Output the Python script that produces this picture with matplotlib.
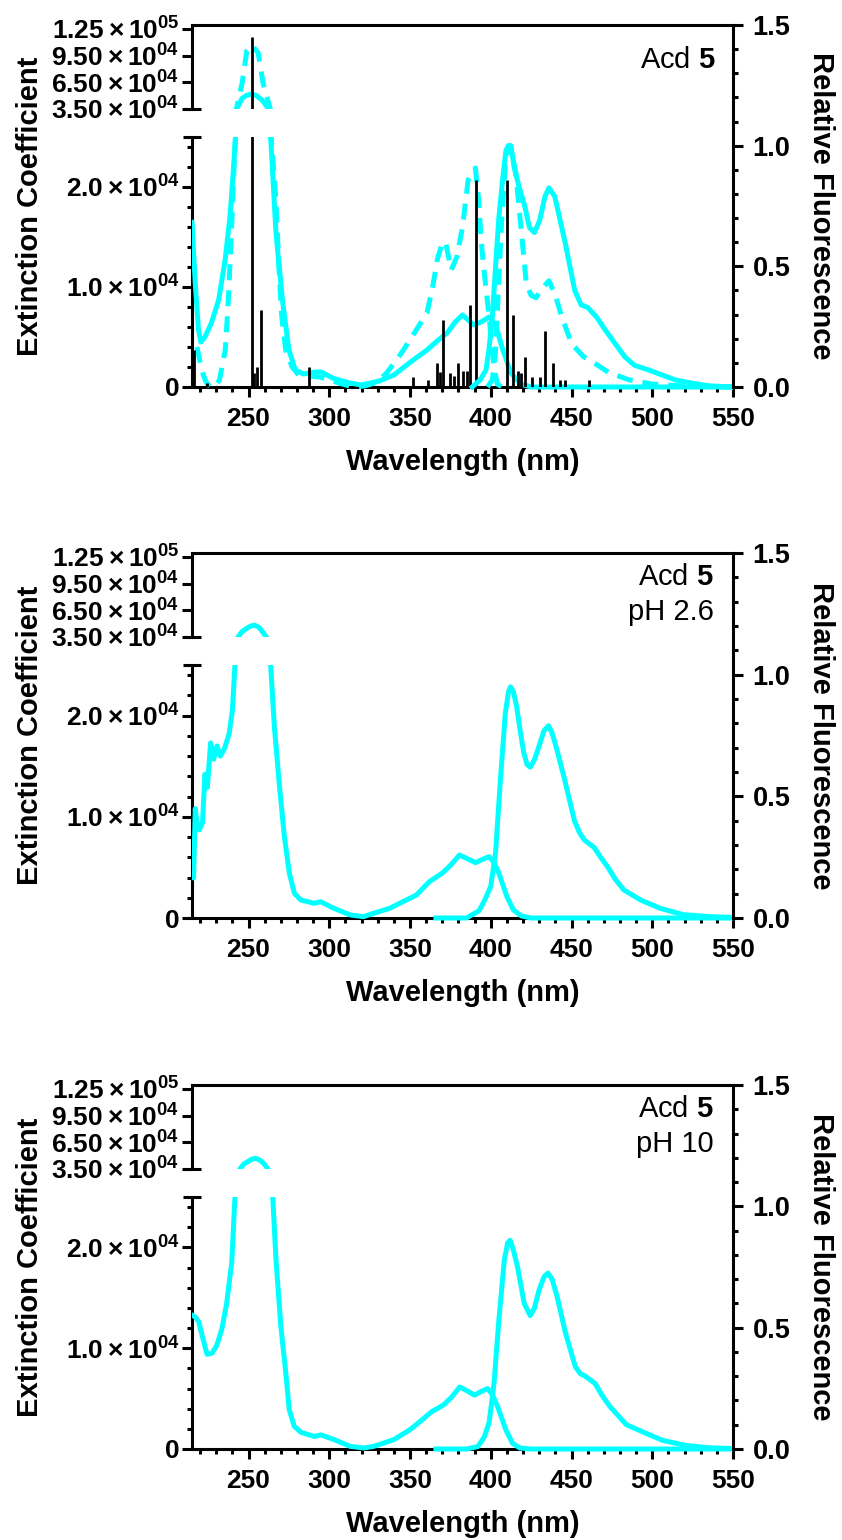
import numpy as np
import matplotlib
matplotlib.use('Agg')
import matplotlib.pyplot as plt
from matplotlib import ticker
from matplotlib.patches import Rectangle

plt.rcParams['font.family'] = ['Liberation Sans', 'DejaVu Sans']
plt.rcParams['font.weight'] = 'bold'
plt.rcParams['mathtext.fontset'] = 'custom'
plt.rcParams['mathtext.rm'] = 'Liberation Sans:weight=bold'
plt.rcParams['mathtext.it'] = 'Liberation Sans:weight=bold'
plt.rcParams['mathtext.bf'] = 'Liberation Sans:weight=bold'
plt.rcParams['mathtext.sf'] = 'Liberation Sans:weight=normal'

CYAN = '#00ffff'

# --- Acd 5: calculated transitions (sticks) ---
stick_nm = [216, 224, 252, 253.5, 255, 258, 287.5, 352, 361, 367,
            368.5, 370.5, 375, 377.5, 380, 383, 385, 387, 391, 410,
            413.8, 417, 418.5, 421, 425.5, 430.5, 433.8, 438.6, 443, 446,
            460.6]
stick_eps = [3700, 400, 116000, 1400, 2000, 7700, 2000, 1000, 700, 2400,
             1500, 6700, 1400, 1100, 2400, 1600, 1600, 8200, 20700, 20700,
             7200, 1600, 1400, 3000, 1000, 1000, 5600, 2400, 700, 700,
             700]

# --- Acd 5: calculated absorption (dashed, extinction) ---
calc_abs_nm = [218, 220, 222, 224, 226.5, 229, 232, 235.6, 237.5, 239.4,
               240.6, 241.9, 242.5, 246, 249, 252, 256, 259, 263.5, 264,
               267, 268.8, 270.6, 273, 277, 281, 287, 294, 300, 308,
               315, 322, 328, 335, 343, 350, 355, 360.5, 364, 367,
               370, 372, 375.5, 379, 382.5, 386, 390.5, 392.5, 394, 396,
               399, 402, 404, 407]
calc_abs_eps = [4000, 2500, 1200, 400, 0, 0, 700, 3700, 8700, 15400,
                20400, 25000, 35000, 64000, 101000, 107000, 98000, 64000, 35000, 25000,
                18700, 12000, 7000, 3700, 2000, 1200, 1100, 1000, 700, 300,
                0, 100, 400, 1300, 3000, 4700, 6000, 7400, 10000, 12800,
                14400, 14500, 11700, 13000, 16000, 20700, 21900, 18700, 14700, 11400,
                7000, 2000, 300, 0]

# --- Acd 5: calculated emission (dashed, relative) ---
calc_em_nm = [398, 401, 403, 405, 407, 409, 411, 413, 415.5, 417,
              419, 422, 425, 428, 432, 436, 440, 444, 450, 457.5,
              464, 473, 485.5, 500, 520, 550]
calc_em_f = [0.0, 0.03, 0.15, 0.45, 0.72, 0.92, 1.0, 0.97, 0.89, 0.78,
             0.64, 0.43, 0.38, 0.37, 0.41, 0.44, 0.38, 0.29, 0.18, 0.125,
             0.10, 0.06, 0.03, 0.012, 0.004, 0.0]

# --- Acd 5: measured absorption / emission ---
abs5_nm = [215, 217, 219, 220.5, 223, 227, 231.5, 235.5, 238.5, 240.5,
           242, 242.7, 246, 249, 252, 255, 258.3, 260.5, 262.4, 263.7,
           267, 271, 275, 279, 284, 287.5, 292, 295, 302, 312.5,
           320, 331, 340, 352, 360.5, 367.5, 373, 378, 382.5, 386,
           389.5, 394, 399, 403, 407.5, 412.5, 418.5, 425, 550]
abs5_eps = [16500, 10400, 5700, 4500, 5000, 6400, 8700, 12700, 17000, 21400,
            25000, 35000, 47000, 50500, 51900, 50000, 45000, 40000, 35000, 25000,
            15400, 8700, 3700, 1700, 1300, 1400, 1500, 1500, 900, 400,
            200, 600, 1200, 2700, 3700, 4700, 5400, 6500, 7200, 6700,
            6200, 6500, 7000, 6200, 3700, 1400, 300, 0, 0]
em5_nm = [388.5, 393.5, 397, 398.8, 401, 403, 405, 407.5, 409.4, 411,
          412.5, 414.5, 417.5, 421, 424, 427, 430.3, 433.6, 436, 439.6,
          443, 446, 449, 452, 456, 460, 465.5, 470.5, 477, 483,
          489, 498, 506, 514, 525, 535, 550]
em5_f = [0.0, 0.03, 0.07, 0.15, 0.29, 0.50, 0.70, 0.87, 0.98, 1.0,
         1.0, 0.91, 0.83, 0.75, 0.66, 0.64, 0.69, 0.79, 0.825, 0.79,
         0.69, 0.60, 0.50, 0.40, 0.34, 0.33, 0.29, 0.24, 0.18, 0.125,
         0.09, 0.07, 0.05, 0.03, 0.015, 0.005, 0.0]

# --- Acd 5, pH 2.6 ---
abs26_nm = [214.5, 216, 217, 218.5, 219.5, 221.5, 223, 224.5, 226.5, 228.5,
            230.5, 232.5, 235, 238, 240, 241.6, 243.5, 246, 248.8, 251,
            253.5, 255.5, 257, 259, 261, 263.7, 266, 269.2, 272.2, 275.3,
            278.4, 282.4, 290.6, 294.7, 302.8, 313, 321.2, 327.3, 337.5, 343.9,
            354, 362, 370, 375, 380.6, 385, 390.6, 395, 398.9, 402,
            405, 410, 414, 419, 425, 550]
abs26_eps = [5700, 3950, 10800, 9000, 8700, 9400, 14200, 12900, 17300, 15700,
             17000, 16000, 16700, 18200, 20500, 25000, 35000, 41000, 44700, 47000,
             48300, 47000, 44700, 40000, 35000, 25000, 18900, 12970, 8030, 4410,
             2440, 1780, 1450, 1610, 960, 300, 130, 460, 960, 1480,
             2270, 3590, 4440, 5200, 6220, 5900, 5470, 5800, 6060, 5500,
             4440, 2110, 790, 200, 0, 0]
em26_nm = [366, 385, 392.8, 396, 400, 403, 406, 409, 411, 412.2,
           414, 416, 418, 420.4, 422.5, 424.5, 427, 429.6, 433, 435.7,
           438, 440.6, 445.7, 451.8, 455, 458, 464, 468, 472.4, 477,
           482.5, 492.8, 504.8, 519, 535, 550]
em26_f = [0, 0, 0.03, 0.07, 0.13, 0.27, 0.57, 0.84, 0.93, 0.95,
          0.93, 0.87, 0.78, 0.68, 0.63, 0.62, 0.65, 0.70, 0.77, 0.79,
          0.76, 0.70, 0.57, 0.40, 0.35, 0.32, 0.29, 0.25, 0.21, 0.16,
          0.115, 0.074, 0.04, 0.014, 0.006, 0.002]

# --- Acd 5, pH 10 ---
abs10_nm = [215, 216, 217.5, 219.2, 221.2, 224.3, 227.4, 230.4, 233.5, 236.5,
            239.6, 241.6, 244.7, 247, 249.8, 252, 253.9, 256, 258, 260,
            262, 265, 267, 270, 273.3, 275.2, 278.3, 282.5, 290.7, 294.8,
            303, 313, 321.4, 327.5, 340, 350, 356, 363.4, 370.6, 375.5,
            380.8, 385, 390, 394, 398, 401, 404.3, 409.4, 413.5, 418,
            425, 550]
abs10_eps = [13300, 13200, 13000, 12600, 11300, 9400, 9500, 10300, 11900, 14500,
             18500, 25000, 35000, 40500, 43600, 46000, 47000, 46000, 43600, 40000,
             35000, 25000, 18800, 12200, 7200, 3900, 2250, 1650, 1250, 1400,
             930, 260, 100, 260, 930, 1920, 2700, 3700, 4350, 5100,
             6150, 5800, 5340, 5700, 6000, 5400, 4180, 1880, 560, 100,
             0, 0]
em10_nm = [366, 385, 392, 396, 399, 402, 405, 408.4, 410.5, 412,
           414, 416.6, 420.7, 424.4, 427, 429.9, 433, 435.4, 438, 441,
           446.2, 452.3, 455.5, 458.5, 464.6, 469, 473.8, 484, 494.3, 506.6,
           520.8, 535, 550]
em10_f = [0, 0, 0.01, 0.05, 0.11, 0.27, 0.53, 0.78, 0.85, 0.86,
          0.82, 0.75, 0.60, 0.55, 0.58, 0.655, 0.71, 0.725, 0.70, 0.63,
          0.48, 0.34, 0.31, 0.30, 0.27, 0.22, 0.175, 0.10, 0.07, 0.035,
          0.015, 0.005, 0.002]

hi_ticks = [35000, 65000, 95000, 125000]
lo_ticks = [0, 10000, 20000]
fl_ticks = [0.0, 0.5, 1.0, 1.5]

panels = [
    dict(abs=(abs5_nm, abs5_eps), em=(em5_nm, em5_f), calc=True,
         notes=[r'$\mathsf{Acd}\ 5$']),
    dict(abs=(abs26_nm, abs26_eps), em=(em26_nm, em26_f), calc=False,
         notes=[r'$\mathsf{Acd}\ 5$', 'pH 2.6']),
    dict(abs=(abs10_nm, abs10_eps), em=(em10_nm, em10_f), calc=False,
         notes=[r'$\mathsf{Acd}\ 5$', 'pH 10']),
]

W, H = 842, 1540
fig = plt.figure(figsize=(W / 100, H / 100), dpi=100)


def fx(px):
    return px / W


def fy(py):
    return 1 - py / H


def sci(v, pos=None, nd=1):
    if v == 0:
        return '0'
    e = int(np.floor(np.log10(v)))
    return r'$%.*f\times10^{%02d}$' % (nd, v / 10 ** e, e)


LEFT, RIGHT = 192, 733
tops = [25, 553, 1085]
bots = [387, 918, 1449]
LW = 3.6
SPW = 2.2
dash = (0, (3.2, 2.0))

for p, top, bot in zip(panels, tops, bots):
    hi_bot = top + 84
    lo_top = hi_bot + 28
    w = (RIGHT - LEFT) / W
    ax_lo = fig.add_axes([fx(LEFT), fy(bot), w, (bot - lo_top) / H])
    ax_hi = fig.add_axes([fx(LEFT), fy(hi_bot), w, (hi_bot - top) / H])
    ax_r = fig.add_axes([fx(LEFT), fy(bot), w, (bot - top) / H])
    ax_r.patch.set_visible(False)

    for ax in (ax_lo, ax_hi, ax_r):
        ax.set_xlim(215, 550)
        for s in ax.spines.values():
            s.set_linewidth(SPW)
    ax_lo.set_ylim(0, 25000)
    ax_hi.set_ylim(35000, 129500)
    ax_r.set_ylim(0, 1.5)

    # spines: broken left axis, full right axis
    ax_lo.spines[['top', 'right']].set_visible(False)
    ax_hi.spines[['bottom', 'right']].set_visible(False)
    ax_r.spines[['top', 'left', 'bottom']].set_visible(False)

    # break caps on the left axis
    for ax, yy in ((ax_hi, 0), (ax_lo, 1)):
        ax.plot(0, yy, marker='_', ms=13, mew=SPW, color='k',
                transform=ax.transAxes, clip_on=False, zorder=5)

    # ticks
    ax_lo.xaxis.set_major_locator(ticker.MultipleLocator(50))
    ax_lo.xaxis.set_minor_locator(ticker.MultipleLocator(10))
    ax_lo.yaxis.set_major_locator(ticker.FixedLocator(lo_ticks))
    ax_lo.yaxis.set_minor_locator(ticker.MultipleLocator(2000))
    ax_lo.yaxis.set_major_formatter(ticker.FuncFormatter(lambda v, pos: sci(v, pos, 1)))
    ax_hi.yaxis.set_major_locator(ticker.FixedLocator(hi_ticks))
    ax_hi.yaxis.set_major_formatter(ticker.FuncFormatter(lambda v, pos: sci(v, pos, 2)))
    ax_hi.xaxis.set_visible(False)
    ax_r.xaxis.set_visible(False)
    ax_r.yaxis.tick_right()
    ax_r.yaxis.set_major_locator(ticker.FixedLocator(fl_ticks))
    ax_r.yaxis.set_minor_locator(ticker.MultipleLocator(0.1))
    ax_r.yaxis.set_major_formatter(ticker.FormatStrFormatter('%.1f'))

    for ax in (ax_lo, ax_hi, ax_r):
        ax.tick_params(which='major', length=7.2, width=SPW, direction='out')
        ax.tick_params(which='minor', length=3.8, width=SPW, direction='out')
    ax_lo.tick_params(axis='x', labelsize=19, pad=7)
    ax_lo.tick_params(axis='y', labelsize=19, pad=2)
    ax_hi.tick_params(axis='y', labelsize=19, pad=2)
    ax_r.tick_params(axis='y', labelsize=19.5, pad=7)

    # clip lines a little below the baseline so zero-level curves cover the axis
    clip_lo = Rectangle((0, -0.02), 1, 1.02, transform=ax_lo.transAxes)
    clip_r = Rectangle((0, -0.015), 1, 1.015, transform=ax_r.transAxes)

    anm, aeps = p['abs']
    if p['calc']:
        for ax in (ax_lo, ax_hi):
            l, = ax.plot(calc_abs_nm, calc_abs_eps, color=CYAN, lw=LW, ls=dash, zorder=3)
            if ax is ax_lo:
                l.set_clip_path(clip_lo)
    for ax in (ax_lo, ax_hi):
        l, = ax.plot(anm, aeps, color=CYAN, lw=LW, zorder=3,
                     solid_joinstyle='round', solid_capstyle='round')
        if ax is ax_lo:
            l.set_clip_path(clip_lo)
    if p['calc']:
        for ax in (ax_lo, ax_hi):
            ax.vlines(stick_nm, 0, stick_eps, color='k', lw=2, zorder=4)
        l, = ax_r.plot(calc_em_nm, calc_em_f, color=CYAN, lw=LW, ls=dash)
        l.set_clip_path(clip_r)
    enm, ef = p['em']
    l, = ax_r.plot(enm, ef, color=CYAN, lw=LW, solid_joinstyle='round')
    l.set_clip_path(clip_r)

    # panel labels
    xr = 716 if p['calc'] else 714
    base = top + (43 if p['calc'] else 32)
    for k, t in enumerate(p['notes']):
        fig.text(fx(xr), fy(base + 35 * k), t, ha='right', va='baseline',
                 fontsize=21, fontweight='normal')

    mid = (top + bot) / 2
    fig.text(fx(30), fy(mid), 'Extinction Coefficient', rotation=90,
             ha='center', va='center', fontsize=21)
    fig.text(fx(821), fy(mid), 'Relative Fluorescence', rotation=270,
             ha='center', va='center', fontsize=21)
    fig.text(fx((LEFT + RIGHT) / 2), fy(bot + 75), 'Wavelength (nm)',
             ha='center', va='center', fontsize=21)

fig.savefig('out.png', dpi=100)
